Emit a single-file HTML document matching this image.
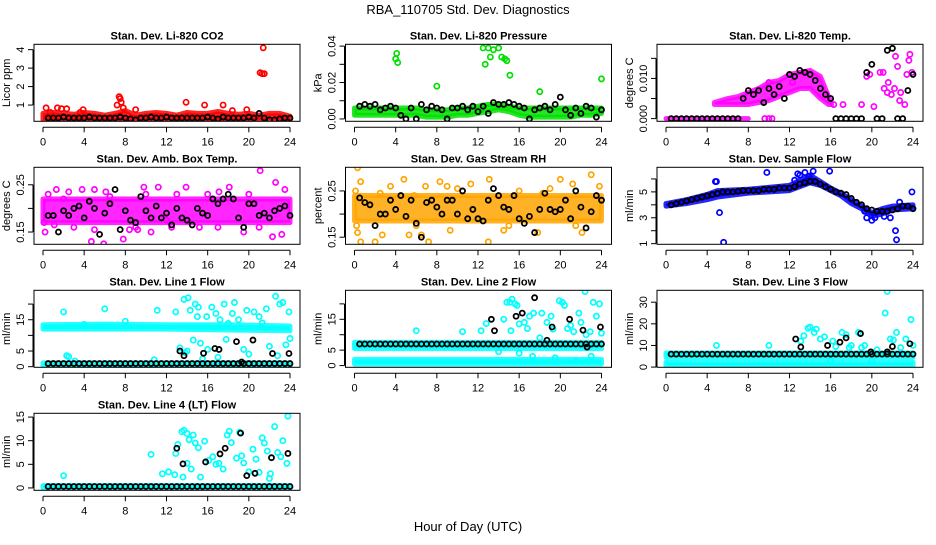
<!DOCTYPE html>
<html><head><meta charset="utf-8"><style>
body{margin:0;background:#fff}
svg text{font-family:"Liberation Sans",sans-serif;fill:#000}
</style></head><body>
<svg id="c" width="936" height="540" viewBox="0 0 936 540">
<text x="468" y="14" font-size="13" text-anchor="middle">RBA_110705  Std. Dev. Diagnostics</text>
<text x="468" y="531" font-size="13" text-anchor="middle">Hour of Day (UTC)</text>
</svg>
<script>
const blackX=[0.5,1,1.5,2,2.5,3,3.5,4,4.5,5,5.5,6,6.5,7,7.5,8,8.5,9,9.5,10,10.5,11,11.5,12,12.5,13,13.5,14,14.5,15,15.5,16,16.5,17,17.5,18,18.5,19,19.5,20,20.5,21,21.5,22,22.5,23,23.5,24];
const xTicks=[0,4,8,12,16,20,24];
// panel 1
const co2Black=[0.3,0.3,0.3,0.35,0.3,0.3,0.3,0.3,0.35,0.3,0.3,0.3,0.3,0.3,0.35,0.3,0.25,0.2,0.3,0.3,0.35,0.3,0.3,0.35,0.3,0.3,0.3,0.3,0.3,0.3,0.3,0.35,0.3,0.25,0.35,0.3,0.3,0.3,0.3,0.35,0.3,0.55,0.3,0.2,0.2,0.25,0.3,0.3];
const co2Out=[[0.3,0.85],[0.7,0.6],[1.4,0.85],[1.8,0.8],[2.3,0.8],[3.6,0.6],[3.9,0.75],[7.2,1.0],[7.4,1.45],[7.5,1.35],[7.6,1.15],[7.8,0.85],[9.0,0.75],[13.9,1.15],[15.7,1.0],[17.5,1.0],[18.4,0.7],[19.8,0.75],[21.1,2.75],[21.3,2.7],[21.4,4.1],[21.5,2.7]];
const co2BandX=[0,1,2,3,4,5,6,7,8,9,10,11,12,13,14,15,16,17,18,19,20,21,22,23,24];
const co2BandLo=[0.2,0.2,0.2,0.2,0.2,0.2,0.2,0.2,0.2,0.2,0.2,0.2,0.2,0.2,0.2,0.2,0.2,0.2,0.2,0.2,0.2,0.2,0.2,0.2,0.2];
const co2BandHi=[0.55,0.6,0.55,0.5,0.6,0.55,0.45,0.55,0.7,0.45,0.55,0.6,0.55,0.45,0.6,0.55,0.55,0.65,0.55,0.5,0.55,0.45,0.55,0.55,0.4];
// panel 2
const presBlack=[0.007,0.008,0.007,0.008,0.005,0.006,0.007,0.006,0.002,0.0,0.006,0.0,0.008,0.005,0.007,0.006,0.005,0.0,0.006,0.006,0.007,0.005,0.007,0.004,0.007,0.003,0.009,0.008,0.008,0.009,0.008,0.007,0.006,0.0,0.005,0.006,0.007,0.005,0.008,0.012,0.005,0.002,0.006,0.003,0.007,0.006,0.001,0.005];
const presOut=[[4.1,0.036],[4.0,0.033],[4.2,0.031],[8.0,0.018],[12.5,0.039],[12.7,0.03],[13.0,0.039],[13.2,0.034],[13.5,0.038],[14.0,0.039],[14.3,0.034],[14.6,0.033],[14.8,0.032],[15.1,0.024],[18.0,0.015],[24.0,0.022]];
const presBandX=[0,1,2,3,4,5,6,7,8,9,10,11,12,13,14,15,16,17,18,19,20,21,22,23,24];
const presBandLo=[0.002,0.002,0.002,0.002,0.002,0.002,0.002,0.001,0.001,0.001,0.002,0.002,0.003,0.004,0.005,0.004,0.002,0.001,0.001,0.001,0.001,0.001,0.002,0.002,0.003];
const presBandHi=[0.006,0.006,0.006,0.006,0.006,0.006,0.006,0.005,0.005,0.005,0.006,0.006,0.007,0.008,0.008,0.007,0.006,0.006,0.006,0.006,0.006,0.006,0.006,0.006,0.006];
// panel 3
const tempBlack=[0,0,0,0,0,0,0,0,0,0,0,0,0,0,0.005,0.007,0.006,0.007,0.004,0.0075,0.006,0.008,0.005,0.011,0.0105,0.012,0.0115,0.011,0.0095,0.0075,0.006,0.005,0,0,0,0,0,0,0.0115,0.0135,0,0,0.017,0.0175,0,0,0.007,0.011];
const tempOut=[[16.3,0.0035],[17.2,0.0035],[19.0,0.0035],[19.5,0.0105],[19.8,0.011],[20.8,0.0115],[21.1,0.0115],[21.5,0.0065],[21.2,0.0075],[21.6,0.009],[21.9,0.006],[22.2,0.0075],[22.5,0.013],[22.8,0.0065],[23.2,0.0035],[23.7,0.016],[23.6,0.0145],[23.4,0.011],[23.9,0.0115],[22.3,0.0155],[22.7,0.0045],[20.2,0.003],[9.6,0.0],[10.0,0.0],[10.3,0.0],[12.3,0.009],[10.0,0.009]];
const tempBaseX=[0,8];
const tempBaseLo=[0,0];
const tempBaseHi=[0,0];
const tempBandX=[4.7,6,7,8,9,10,11,12,13,14,15,15.8,16.1];
const tempBandLo=[0.0035,0.0035,0.0035,0.0035,0.004,0.0045,0.0055,0.0065,0.0075,0.0075,0.005,0.0035,0.0035];
const tempBandHi=[0.004,0.005,0.0055,0.0065,0.0075,0.009,0.0095,0.011,0.0115,0.012,0.0105,0.0055,0.0035];
// panel 4
const ambBlack=[0.185,0.185,0.15,0.195,0.185,0.2,0.205,0.18,0.215,0.2,0.145,0.19,0.21,0.24,0.155,0.195,0.175,0.17,0.225,0.195,0.18,0.205,0.18,0.19,0.165,0.2,0.18,0.175,0.165,0.2,0.19,0.185,0.22,0.21,0.22,0.23,0.22,0.18,0.16,0.21,0.21,0.185,0.19,0.18,0.195,0.2,0.205,0.185];
const ambOut=[[0.1,0.17],[0.2,0.15],[1.1,0.165],[1.3,0.24],[2.5,0.235],[3.0,0.16],[3.8,0.24],[4.7,0.13],[5.0,0.24],[5.9,0.125],[6.1,0.235],[7.8,0.135],[8.4,0.155],[9.2,0.155],[9.8,0.245],[10.5,0.15],[11.2,0.245],[12.0,0.175],[13.9,0.245],[15.2,0.16],[17.1,0.235],[18.1,0.245],[19.5,0.15],[21.1,0.28],[22.3,0.14],[22.6,0.255],[23.2,0.145],[23.5,0.24],[0.5,0.23],[2.0,0.22],[6.5,0.225],[10.0,0.23],[13.0,0.23],[16.0,0.23],[20.0,0.23],[5.0,0.155],[9.0,0.16],[12.5,0.16],[17.0,0.16],[21.0,0.16]];
const ambBandX=[0,24];
const ambBandLo=[0.17,0.17];
const ambBandHi=[0.22,0.22];
// panel 5
const rhBlack=[0.235,0.225,0.22,0.175,0.2,0.2,0.23,0.21,0.24,0.195,0.23,0.18,0.15,0.225,0.23,0.215,0.2,0.23,0.23,0.2,0.25,0.19,0.21,0.19,0.185,0.23,0.255,0.24,0.215,0.21,0.24,0.19,0.18,0.195,0.16,0.21,0.245,0.21,0.205,0.21,0.23,0.19,0.25,0.215,0.17,0.205,0.24,0.23];
const rhOut=[[0.1,0.25],[0.3,0.3],[0.6,0.27],[0.2,0.175],[0.3,0.16],[0.6,0.14],[2.0,0.14],[2.7,0.155],[3.5,0.26],[4.8,0.275],[5.3,0.155],[5.8,0.24],[6.5,0.155],[6.9,0.26],[7.2,0.14],[8.3,0.27],[9.0,0.26],[9.3,0.165],[11.3,0.265],[13.1,0.275],[13.0,0.14],[14.5,0.165],[17.8,0.16],[18.3,0.245],[20.0,0.275],[21.2,0.265],[22.1,0.16],[23.0,0.285],[23.8,0.26],[16.0,0.25],[19.0,0.255],[10.0,0.255],[2.5,0.245],[6.0,0.175],[15.0,0.175],[21.5,0.175]];
const rhBandX=[0,24];
const rhBandLo=[0.185,0.185];
const rhBandHi=[0.24,0.24];
// panel 6
const sfBlack=[4.0,4.1,4.2,4.3,4.4,4.5,4.6,4.7,4.8,4.9,5.0,5.0,5.0,5.05,5.1,5.1,5.1,5.1,5.2,5.2,5.2,5.3,5.3,5.3,5.4,5.6,5.7,5.8,5.8,5.6,5.4,5.2,5.0,4.9,4.8,4.5,4.2,4.0,3.7,3.6,3.5,3.5,3.5,3.6,3.7,3.9,3.9,3.7];
const sfOut=[[4.8,5.8],[4.9,5.8],[5.2,3.4],[5.6,1.1],[9.8,6.5],[12.5,5.9],[12.8,6.4],[13.0,6.3],[13.5,6.5],[13.9,6.2],[14.3,6.6],[15.9,6.6],[19.3,3.5],[21.2,3.1],[21.8,3.0],[22.3,2.0],[22.4,1.3],[22.7,4.2],[23.9,5.0],[19.5,3.0],[20.3,3.0],[20.0,2.8]];
const sfBandX=[0,2,4,5,8,12,13,14,15,16,17,18,19,20,21,22,24];
const sfBandLo=[3.9,4.1,4.4,4.6,4.9,5.1,5.4,5.7,5.5,5.1,4.7,4.1,3.7,3.1,3.3,3.6,3.7];
const sfBandHi=[4.1,4.4,4.8,5.1,5.2,5.5,5.9,6.3,5.8,5.3,4.9,4.4,3.9,3.4,3.7,3.9,4.0];
// panel 7
const l1Black=[1,1,1,1,1,1,1,1,1,1,1,1,1,1,1,1,1,1,1,1,1,1,1,1,1,1,1,1,1,1,1,1,1,1,1,1,1,1,1,1,1,1,1,1,1,1,1,1];
const l1BlackExtra=[[13.3,5],[13.7,3.5],[15.6,4.3],[16.7,5.8],[17.1,5.5],[18.8,8],[19.3,1.5],[20.4,8.5],[22.3,4.2],[23.9,4.2]];
const l1Out=[[2.0,17.5],[2.3,3.5],[2.5,3.2],[3.1,1.8],[4.0,13.5],[6.0,18.5],[8.0,14.5],[10.8,2.2],[11.1,18],[12.9,17.5],[13.3,6],[13.7,21.5],[14.1,22],[13.8,4.5],[14.3,18],[14.6,8.5],[14.8,20],[15.1,19],[15.3,7.5],[15.5,2.5],[15.9,16],[16.4,19],[16.8,17],[17.2,15],[17.6,20],[17.8,8.7],[18.4,17],[18.6,20.5],[19.0,15],[19.5,5.5],[19.8,18],[20.5,17.5],[21.3,14],[21.7,18.5],[22.0,6.5],[22.6,22.5],[23.0,20],[23.3,20.5],[23.6,7],[23.9,17.5],[24.0,9],[16.0,5.5],[17.0,3],[20.0,4],[22.8,3.5],[15.0,16],[21.0,16],[18.0,13.8],[14.0,5]];
const l1BandX=[0,6,12,18,24];
const l1BandLo=[12.0,12.0,12.0,11.7,11.5];
const l1BandHi=[13.4,13.6,13.4,13.4,13.0];
const l1Band2X=[0,24];
const l1Band2Lo=[0.3,0.3];
const l1Band2Hi=[1.2,1.2];
// panel 8
const l2Black=[7,7,7,7,7,7,7,7,7,7,7,7,7,7,7,7,7,7,7,7,7,7,7,7,7,7,7,7,7,7,7,7,7,7,7,7,7,7,7,7,7,7,7,7,7,7,7,7];
const l2BlackExtra=[[13.3,15],[13.6,11.3],[15.7,16],[16.3,17],[17.5,22],[19.2,12.5],[20.9,15],[18.7,8.2],[22.2,11.5],[22.6,6],[23.9,12.5]];
const l2Out=[[10.5,11],[12.3,11.3],[12.8,13.6],[15.2,11.3],[16.0,13.5],[14.5,15],[14.8,20.5],[15.1,20.5],[15.3,21.5],[15.6,20],[15.8,19.5],[16.5,14],[16.8,12],[17.0,16],[17.4,17],[18.2,17],[18.7,14],[19.1,16],[19.3,11.8],[19.9,21],[20.2,20.5],[20.4,19.5],[20.7,12],[21.0,13],[21.3,11],[21.8,17],[22.0,14],[22.4,24],[22.9,11],[23.2,20.5],[23.5,16],[23.8,20],[24.0,10.5],[17.3,3],[19.5,2.5],[21.5,1.5],[23.0,3],[16.0,4],[14.0,4.5],[6.0,11.3],[18.0,9],[22.5,10]];
const l2BandX=[0,24];
const l2BandLo=[5.5,5.5];
const l2BandHi=[7.5,7.5];
const l2Band2X=[0,24];
const l2Band2Lo=[0.5,0.5];
const l2Band2Hi=[2.0,2.0];
// panel 9
const l3Black=[6,6,6,6,6,6,6,6,6,6,6,6,6,6,6,6,6,6,6,6,6,6,6,6,6,6,6,6,6,6,6,6,6,6,6,6,6,6,6,6,6,6,6,6,6,6,6,6];
const l3BlackExtra=[[12.6,13],[13.1,9.3],[15.7,10],[16.9,11.5],[17.5,13.5],[18.9,15.5],[19.9,7],[21.5,7],[22.0,9.5],[23.7,10.8]];
const l3Out=[[4.9,10],[10.0,10],[13.1,12],[13.4,14.5],[13.8,18],[14.0,18.5],[14.4,16],[14.6,17.5],[15.0,13],[15.4,14],[16.2,12],[16.5,9.5],[17.1,16],[17.5,15],[18.0,10],[18.7,16],[19.3,10],[20.5,8],[21.3,25],[21.5,35],[21.8,13],[22.1,12.5],[22.4,16],[22.8,9],[23.3,13],[23.8,22],[24.0,10],[19.0,9],[17.8,9],[16.0,3],[20.0,3]];
const l3BandX=[0,24];
const l3BandLo=[4.5,4.5];
const l3BandHi=[6.5,6.5];
const l3Band2X=[0,24];
const l3Band2Lo=[0.7,0.7];
const l3Band2Hi=[2.2,2.2];
// panel 10
const l4Black=[0.3,0.3,0.3,0.3,0.3,0.3,0.3,0.3,0.3,0.3,0.3,0.3,0.3,0.3,0.3,0.3,0.3,0.3,0.3,0.3,0.3,0.3,0.3,0.3,0.3,0.3,0.3,0.3,0.3,0.3,0.3,0.3,0.3,0.3,0.3,0.3,0.3,0.3,0.3,0.3,0.3,0.3,0.3,0.3,0.3,0.3,0.3,0.3];
const l4BlackExtra=[[13.0,8.4],[13.6,5.1],[15.8,5.5],[17.2,7.2],[17.7,8.4],[19.2,11.6],[19.8,2.6],[20.6,3.1],[22.2,6.4],[23.8,7.3]];
const l4Out=[[2.0,2.6],[10.5,7.1],[11.6,3],[12.2,3.4],[12.8,2.8],[12.9,7.3],[13.1,9.2],[13.5,11.9],[13.7,12.2],[13.6,2.3],[14.0,11.5],[14.2,10.2],[14.4,4],[14.6,11.2],[14.8,9.5],[15.1,8.5],[15.3,2.3],[15.7,9.9],[16.1,5.8],[16.5,6.6],[17.1,5.2],[17.5,4],[17.9,11.2],[18.1,12],[18.3,9.6],[18.8,6.3],[19.1,11.8],[19.3,6.8],[19.5,5.3],[20.0,3.4],[20.4,8.2],[20.7,6.1],[21.3,10.6],[21.5,9.5],[21.8,7.8],[22.1,3],[22.5,13],[22.8,7.5],[23.1,6.6],[23.3,10],[23.7,5.2],[23.8,15.2],[22.0,2],[21.0,3.3],[14.0,5.2],[16.8,5]];
const l4BandX=[0,24];
const l4BandLo=[0,0];
const l4BandHi=[0.5,0.5];

const NS='http://www.w3.org/2000/svg';
const svg=document.getElementById('c');
function mk(tag,attrs,parent){const e=document.createElementNS(NS,tag);for(const k in attrs)e.setAttribute(k,attrs[k]);(parent||svg).appendChild(e);return e;}

const panels=[
 {id:'co2',title:'Stan. Dev. Li-820 CO2',yl:'Licor ppm',col:0,row:0,ylim:[0.12,4.29],ticks:[1,2,3,4],labels:['1','2','3','4'],color:'#ff0000',bands:[[co2BandX,co2BandLo,co2BandHi]],out:co2Out,black:co2Black,extra:[]},
 {id:'pressure',title:'Stan. Dev. Li-820 Pressure',yl:'kPa',col:1,row:0,ylim:[-0.0013,0.041],ticks:[0,0.01,0.02,0.03,0.04],labels:['0.00','','0.02','','0.04'],color:'#00e000',bands:[[presBandX,presBandLo,presBandHi]],out:presOut,black:presBlack,extra:[]},
 {id:'temp',title:'Stan. Dev. Li-820 Temp.',yl:'degrees C',col:2,row:0,ylim:[-0.00067,0.0185],ticks:[0,0.005,0.01,0.015],labels:['0.000','','0.010',''],color:'#ff00ff',bands:[[tempBaseX,tempBaseLo,tempBaseHi],[tempBandX,tempBandLo,tempBandHi]],out:tempOut,black:tempBlack,extra:[]},
 {id:'amb-box-temp',title:'Stan. Dev. Amb. Box Temp.',yl:'degrees C',col:0,row:1,ylim:[0.124,0.287],ticks:[0.15,0.2,0.25],labels:['0.15','','0.25'],color:'#ff00ff',bands:[[ambBandX,ambBandLo,ambBandHi]],out:ambOut,black:ambBlack,extra:[]},
 {id:'gas-rh',title:'Stan. Dev. Gas Stream RH',yl:'percent',col:1,row:1,ylim:[0.1347,0.301],ticks:[0.15,0.2,0.25],labels:['0.15','','0.25'],color:'#ffa500',bands:[[rhBandX,rhBandLo,rhBandHi]],out:rhOut,black:rhBlack,extra:[]},
 {id:'sample-flow',title:'Stan. Dev. Sample Flow',yl:'ml/min',col:2,row:1,ylim:[0.95,6.9],ticks:[1,2,3,4,5,6],labels:['1','','3','','5',''],color:'#0000ff',bands:[[sfBandX,sfBandLo,sfBandHi]],out:sfOut,black:sfBlack,extra:[]},
 {id:'line1',title:'Stan. Dev. Line 1 Flow',yl:'ml/min',col:0,row:2,ylim:[-0.2,24.4],ticks:[0,5,10,15,20],labels:['0','5','','15',''],color:'#00ffff',bands:[[l1BandX,l1BandLo,l1BandHi],[l1Band2X,l1Band2Lo,l1Band2Hi]],out:l1Out,black:l1Black,extra:l1BlackExtra},
 {id:'line2',title:'Stan. Dev. Line 2 Flow',yl:'ml/min',col:1,row:2,ylim:[-0.56,24.4],ticks:[0,5,10,15,20],labels:['0','5','','15',''],color:'#00ffff',bands:[[l2BandX,l2BandLo,l2BandHi],[l2Band2X,l2Band2Lo,l2Band2Hi]],out:l2Out,black:l2Black,extra:l2BlackExtra},
 {id:'line3',title:'Stan. Dev. Line 3 Flow',yl:'ml/min',col:2,row:2,ylim:[-0.1,35.5],ticks:[0,10,20,30],labels:['0','10','20','30'],color:'#00ffff',bands:[[l3BandX,l3BandLo,l3BandHi],[l3Band2X,l3Band2Lo,l3Band2Hi]],out:l3Out,black:l3Black,extra:l3BlackExtra},
 {id:'line4',title:'Stan. Dev. Line 4 (LT) Flow',yl:'ml/min',col:0,row:3,ylim:[-0.5,15.8],ticks:[0,5,10,15],labels:['0','5','10','15'],color:'#00ffff',bands:[[l4BandX,l4BandLo,l4BandHi]],out:l4Out,black:l4Black,extra:l4BlackExtra}
];

panels.forEach(p=>{
  const L=34+p.col*311.5, R=L+266, T=44.3+p.row*123, B=T+77;
  const x0=L+9, x1=R-10;
  const sx=v=>x0+(v/24)*(x1-x0);
  const sy=v=>B-(v-p.ylim[0])/(p.ylim[1]-p.ylim[0])*(B-T);
  const g=mk('g',{});
  
  
  const cp=mk('clipPath',{id:'clip-'+p.id},g);
  mk('rect',{x:L,y:T,width:R-L,height:B-T},cp);
  const plot=mk('g',{'clip-path':'url(#clip-'+p.id+')'},g);
  
  
  p.bands.forEach(b=>{
    const [bx,lo,hi]=b;
    let pts=[];
    for(let i=0;i<bx.length;i++)pts.push(sx(bx[i])+','+sy(hi[i]));
    for(let i=bx.length-1;i>=0;i--)pts.push(sx(bx[i])+','+sy(lo[i]));
    const poly=mk('polygon',{points:pts.join(' '),fill:p.color,'fill-opacity':0.85,stroke:p.color,'stroke-width':5,'stroke-opacity':0.85,'stroke-linejoin':'round'},plot);
    
    
  });
  p.out.forEach(o=>{
    const c=mk('circle',{cx:sx(o[0]),cy:sy(o[1]),r:2.6,fill:'none',stroke:p.color,'stroke-width':1.7},plot);
    
    
  });
  const blk=p.black.map((v,i)=>[blackX[i],v]).concat(p.extra);
  blk.forEach(o=>{
    const c=mk('circle',{cx:sx(o[0]),cy:sy(o[1]),r:2.5,fill:'none',stroke:'#000','stroke-width':1.8},plot);
    
    
  });
  const frame=mk('rect',{x:L,y:T,width:R-L,height:B-T,fill:'none',stroke:'#000','stroke-width':1},g);
  
  
  const tt=mk('text',{x:(L+R)/2,y:T-5,'font-size':11,'font-weight':'bold','text-anchor':'middle'},g);
  tt.textContent=p.title;
  
  
  mk('line',{x1:x0,x2:x1,y1:B+6,y2:B+6,stroke:'#000'},g);
  xTicks.forEach(v=>{
    mk('line',{x1:sx(v),x2:sx(v),y1:B+6,y2:B+11,stroke:'#000'},g);
    const t=mk('text',{x:sx(v),y:B+24,'font-size':11,'text-anchor':'middle'},g);
    t.textContent=v;
    
    
  });
  const ty0=sy(p.ticks[0]),ty1=sy(p.ticks[p.ticks.length-1]);
  mk('line',{x1:L-1,x2:L-1,y1:ty0,y2:ty1,stroke:'#000'},g);
  p.ticks.forEach((v,i)=>{
    const y=sy(v);
    mk('line',{x1:L-6,x2:L-1,y1:y,y2:y,stroke:'#000'},g);
    if(p.labels[i]){
      const t=mk('text',{x:L-10,y:y,'font-size':11,'text-anchor':'middle',transform:'rotate(-90 '+(L-10)+' '+y+')'},g);
      t.textContent=p.labels[i];
      
      
    }
  });
  const yx=L-24, ym=(T+B)/2;
  const yt=mk('text',{x:yx,y:ym,'font-size':11,'text-anchor':'middle',transform:'rotate(-90 '+yx+' '+ym+')'},g);
  yt.textContent=p.yl;
  
  
});
</script>
</body></html>
